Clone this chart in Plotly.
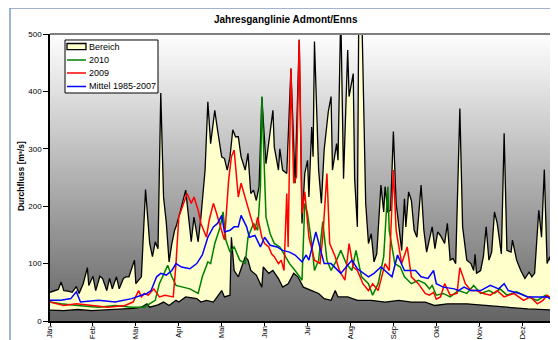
import plotly.graph_objects as go

# ---------------- data (day of year, discharge m³/s) ----------------
months = ["Jän", "Feb", "Mär", "Apr", "Mai", "Jun", "Jul", "Aug", "Sep", "Okt", "Nov", "Dez"]
month_tick_days = [0, 31, 62, 93, 124, 155, 186, 217, 248, 279, 310, 341]
y_ticks = [0, 100, 200, 300, 400, 500]
legend_names = ["Bereich", "2010", "2009", "Mittel 1985-2007"]
line_colors = ["#FFFFCC", "#008000", "#FF0000", "#0000FF"]

max_days = [0, 3, 6, 8, 10, 13, 16, 19, 21, 24, 27, 28, 31, 33, 36, 38, 41, 43, 45, 48, 50, 53, 55, 57,
            61, 62, 66, 69, 72, 74, 76, 78, 80, 82, 84, 86, 88, 90, 91, 94, 98, 102, 104, 107, 109, 112,
            114, 116, 119, 121, 124, 126, 128, 130, 132, 134, 136, 138, 141, 143, 145, 147, 149, 151, 153,
            156, 159, 161, 162, 165, 166, 168, 171, 174, 177, 180, 182, 184, 186, 187, 189, 190, 191, 194,
            196, 198, 201, 203, 204, 207, 208, 210, 212, 215, 216, 219, 220, 222, 223, 224, 225, 227, 228,
            230, 232, 234, 236, 239, 241, 242, 244, 246, 248, 250, 253, 254, 256, 257, 259, 261, 263, 265,
            268, 270, 272, 276, 278, 280, 282, 285, 287, 289, 291, 293, 296, 298, 301, 304, 306, 307, 308,
            311, 313, 315, 317, 319, 321, 323, 326, 328, 330, 333, 334, 337, 340, 343, 346, 348, 350, 353,
            355, 357, 359, 361, 363, 364]
max_vals = [50, 52, 55, 68, 53, 52, 50, 60, 48, 65, 93, 62, 78, 53, 78, 74, 53, 74, 56, 77, 56, 74, 77, 77,
            106, 65, 77, 229, 135, 112, 138, 126, 397, 216, 171, 103, 135, 158, 164, 190, 228, 138, 181, 138,
            181, 263, 382, 309, 367, 333, 286, 283, 263, 286, 333, 321, 321, 286, 263, 292, 222, 228, 210,
            234, 390, 274, 333, 367, 303, 263, 300, 263, 257, 440, 240, 490, 170, 257, 280, 216, 338, 286,
            487, 263, 205, 298, 365, 391, 263, 309, 280, 540, 248, 472, 391, 431, 248, 164, 540, 620, 560,
            321, 205, 135, 152, 103, 117, 237, 190, 234, 190, 193, 330, 205, 135, 123, 213, 164, 225, 210,
            158, 146, 237, 158, 120, 164, 126, 155, 149, 135, 170, 106, 109, 100, 370, 164, 106, 100, 88,
            116, 83, 88, 112, 164, 106, 120, 190, 170, 117, 327, 123, 120, 141, 106, 88, 74, 85, 77, 83, 193,
            146, 264, 100, 112, 77, 74]

min_days = [0, 10, 20, 30, 40, 50, 60, 66, 70, 72, 78, 82, 86, 91, 93, 98, 106, 109, 113, 118, 121, 124,
            126, 130, 131, 133, 136, 138, 141, 143, 145, 149, 153, 154, 158, 161, 165, 168, 172, 176, 179,
            183, 186, 189, 194, 198, 203, 206, 208, 215, 222, 232, 242, 252, 261, 271, 278, 287, 301, 316,
            330, 345, 364]
min_vals = [19, 18, 20, 18, 20, 21, 22, 24, 30, 24, 28, 33, 27, 36, 33, 42, 39, 33, 36, 33, 42, 53, 42, 45,
            146, 88, 77, 91, 112, 106, 88, 80, 59, 94, 83, 88, 74, 59, 65, 83, 77, 59, 56, 53, 48, 39, 36,
            53, 42, 42, 36, 36, 33, 36, 33, 33, 27, 30, 30, 27, 24, 21, 19]

mean_days = [0, 8, 15, 19, 22, 35, 47, 59, 66, 70, 73, 77, 80, 84, 88, 91, 95, 101, 106, 110, 114, 118, 121,
             124, 126, 130, 133, 136, 138, 142, 144, 148, 152, 155, 159, 164, 168, 173, 177, 182, 185, 187,
             192, 195, 198, 203, 210, 218, 222, 230, 234, 239, 247, 251, 256, 264, 268, 273, 277, 279, 284,
             292, 295, 299, 304, 311, 318, 324, 328, 331, 339, 345, 352, 359, 364]
mean_vals = [36, 36, 39, 51, 33, 36, 33, 39, 45, 48, 53, 77, 83, 80, 88, 100, 94, 91, 100, 115, 146, 164,
             170, 184, 155, 158, 164, 164, 184, 164, 146, 149, 129, 146, 132, 129, 123, 120, 115, 103, 115,
             106, 155, 129, 100, 100, 83, 106, 91, 77, 83, 94, 77, 115, 88, 88, 77, 74, 88, 65, 59, 56, 53,
             59, 53, 53, 62, 56, 65, 53, 48, 42, 42, 42, 36]

y2009_days = [0, 10, 19, 30, 42, 54, 60, 64, 66, 68, 71, 75, 79, 83, 89, 91, 92, 93, 99, 102, 104, 107,
              109, 113, 115, 118, 120, 123, 126, 129, 131, 133, 136, 138, 142, 145, 148, 150, 153, 155, 158,
              160, 162, 165, 167, 169, 171, 172, 174, 176, 178, 180, 182, 184, 187, 191, 195, 197, 200, 202,
              206, 209, 213, 216, 219, 222, 226, 230, 233, 237, 242, 245, 248, 250, 254, 258, 261, 266, 271,
              274, 277, 279, 282, 285, 289, 294, 296, 300, 304, 308, 313, 318, 323, 328, 335, 342, 347, 352,
              356, 359, 364]
y2009_vals = [33, 27, 30, 27, 24, 27, 33, 53, 42, 48, 45, 56, 42, 45, 42, 100, 141, 181, 222, 205, 216, 193,
              170, 146, 176, 205, 190, 164, 141, 245, 286, 298, 216, 240, 205, 181, 158, 181, 146, 135, 129,
              117, 112, 100, 106, 88, 222, 129, 440, 240, 251, 490, 187, 225, 146, 106, 100, 146, 257, 135,
              112, 88, 71, 135, 94, 88, 65, 53, 65, 53, 100, 88, 263, 158, 100, 129, 77, 65, 48, 45, 50, 38,
              42, 65, 45, 48, 93, 65, 53, 53, 48, 45, 53, 42, 48, 36, 42, 30, 36, 45, 36]

y2010_days = [0, 8, 20, 35, 47, 59, 68, 76, 79, 85, 88, 91, 96, 101, 107, 110, 114, 116, 119, 123, 125, 127,
              130, 133, 137, 141, 143, 147, 150, 152, 153, 156, 159, 162, 166, 170, 173, 177, 180, 182, 184,
              186, 189, 191, 194, 197, 200, 203, 207, 210, 214, 218, 221, 225, 230, 233, 237, 241, 244, 245,
              249, 253, 256, 261, 266, 271, 274, 276, 279, 284, 289, 295, 301, 306, 311, 317, 321, 325, 330,
              337, 345, 352, 358, 364]
y2010_vals = [33, 30, 27, 24, 27, 24, 24, 36, 65, 97, 77, 62, 59, 56, 48, 77, 103, 100, 135, 164, 190, 141,
              120, 129, 106, 100, 146, 170, 158, 234, 391, 181, 152, 135, 129, 112, 100, 88, 77, 71, 205, 187,
              135, 88, 106, 173, 106, 88, 106, 123, 100, 88, 123, 77, 65, 45, 65, 112, 234, 158, 100, 94, 77,
              65, 71, 65, 56, 62, 45, 48, 42, 53, 48, 62, 48, 53, 48, 56, 45, 51, 42, 36, 45, 33]

# ---------------- figure ----------------
FONT = "Arial, 'Liberation Sans', sans-serif"
fig = go.Figure()

# Bereich (range between min and max) as closed polygon
fig.add_trace(go.Scatter(
    x=max_days + min_days[::-1], y=max_vals + min_vals[::-1],
    mode="lines", fill="toself", fillcolor=line_colors[0],
    line=dict(color="black", width=1.3), name=legend_names[0], hoverinfo="skip"))
fig.add_trace(go.Scatter(x=y2010_days, y=y2010_vals, mode="lines", name=legend_names[1],
                         line=dict(color=line_colors[1], width=1.5)))
fig.add_trace(go.Scatter(x=y2009_days, y=y2009_vals, mode="lines", name=legend_names[2],
                         line=dict(color=line_colors[2], width=1.5)))
fig.add_trace(go.Scatter(x=mean_days, y=mean_vals, mode="lines", name=legend_names[3],
                         line=dict(color=line_colors[3], width=1.5)))

# gradient plot background (white at top -> dark grey at bottom), stacked so no seams
shapes = []
n = 80
for i in range(n - 1, -1, -1):
    f1 = (i + 1) / n
    g = int(round(100 + 155 * (i + 0.5) / n))
    shapes.append(dict(type="rect", xref="paper", yref="paper", x0=0, x1=1, y0=0, y1=f1,
                       fillcolor=f"rgb({g},{g},{g})", line=dict(width=0), layer="below"))
# plot frame (top/right grey)
shapes.append(dict(type="line", xref="paper", yref="paper", x0=0, x1=1, y0=1, y1=1,
                   line=dict(color="#808080", width=2), layer="above"))
shapes.append(dict(type="line", xref="paper", yref="paper", x0=1, x1=1, y0=0, y1=1,
                   line=dict(color="#808080", width=2), layer="above"))
# outer chart border (blue-grey, left and top)
shapes.append(dict(type="line", xref="paper", yref="paper", x0=-0.0794, x1=-0.0794, y0=-0.2, y1=1.0906,
                   line=dict(color="#8499C4", width=1.5), layer="above"))
shapes.append(dict(type="line", xref="paper", yref="paper", x0=-0.0794, x1=1.05, y0=1.0906, y1=1.0906,
                   line=dict(color="#8499C4", width=1.5), layer="above"))

# legend box (compact, Excel-like)
lg_x0, lg_x1, lg_y0, lg_y1 = 0.0298, 0.2143, 0.7944, 0.9791
sw_x0, sw_x1, txt_x = 0.0337, 0.0714, 0.0734
row_y = [0.9564, 0.9094, 0.8641, 0.8171]
shapes.append(dict(type="rect", xref="paper", yref="paper", x0=lg_x0, x1=lg_x1, y0=lg_y0, y1=lg_y1,
                   fillcolor="white", line=dict(color="black", width=1), layer="above"))
shapes.append(dict(type="rect", xref="paper", yref="paper", x0=sw_x0, x1=sw_x1,
                   y0=row_y[0] - 0.0105, y1=row_y[0] + 0.0105,
                   fillcolor=line_colors[0], line=dict(color="black", width=1.3), layer="above"))
for k in range(1, 4):
    shapes.append(dict(type="line", xref="paper", yref="paper", x0=sw_x0, x1=sw_x1, y0=row_y[k], y1=row_y[k],
                       line=dict(color=line_colors[k], width=1.5), layer="above"))

annotations = [
    dict(text="<b>Jahresganglinie Admont/Enns</b>", xref="paper", yref="paper", x=0.468, y=1.0488,
         xanchor="center", yanchor="middle", showarrow=False, font=dict(size=10, family=FONT)),
    dict(text="<b>Durchfluss [m³/s]</b>", xref="paper", yref="paper", x=-0.0575, y=0.505,
         xanchor="center", yanchor="middle", textangle=-90, showarrow=False,
         font=dict(size=8.5, family=FONT)),
]
for k in range(4):
    annotations.append(dict(text=legend_names[k], xref="paper", yref="paper", x=txt_x, y=row_y[k],
                            xanchor="left", yanchor="middle", showarrow=False,
                            font=dict(size=9, family=FONT, color="black")))

# the page body has an 8px margin -> figure is 8px smaller so the chart fills 558x340
fig.update_layout(
    width=550, height=332,
    margin=dict(l=42, r=4, t=26, b=19, autoexpand=False),
    paper_bgcolor="white", plot_bgcolor="rgba(0,0,0,0)",
    font=dict(family=FONT, color="black", size=9),
    shapes=shapes,
    showlegend=False,
    annotations=annotations,
    xaxis=dict(range=[0, 364], tickmode="array", tickvals=month_tick_days, ticktext=months,
               tickangle=-90, ticks="outside", ticklen=3, tickcolor="black", showline=True,
               linecolor="black", linewidth=2, showgrid=False, zeroline=False,
               ticklabelstandoff=-3, tickfont=dict(size=7.5, family=FONT)),
    yaxis=dict(range=[0, 500], tickmode="array", tickvals=y_ticks, ticks="outside", ticklen=5,
               tickcolor="black", showline=True, linecolor="black", linewidth=1.5, showgrid=False,
               zeroline=False, tickfont=dict(size=8, family=FONT)),
)

fig.write_html("out.html")
